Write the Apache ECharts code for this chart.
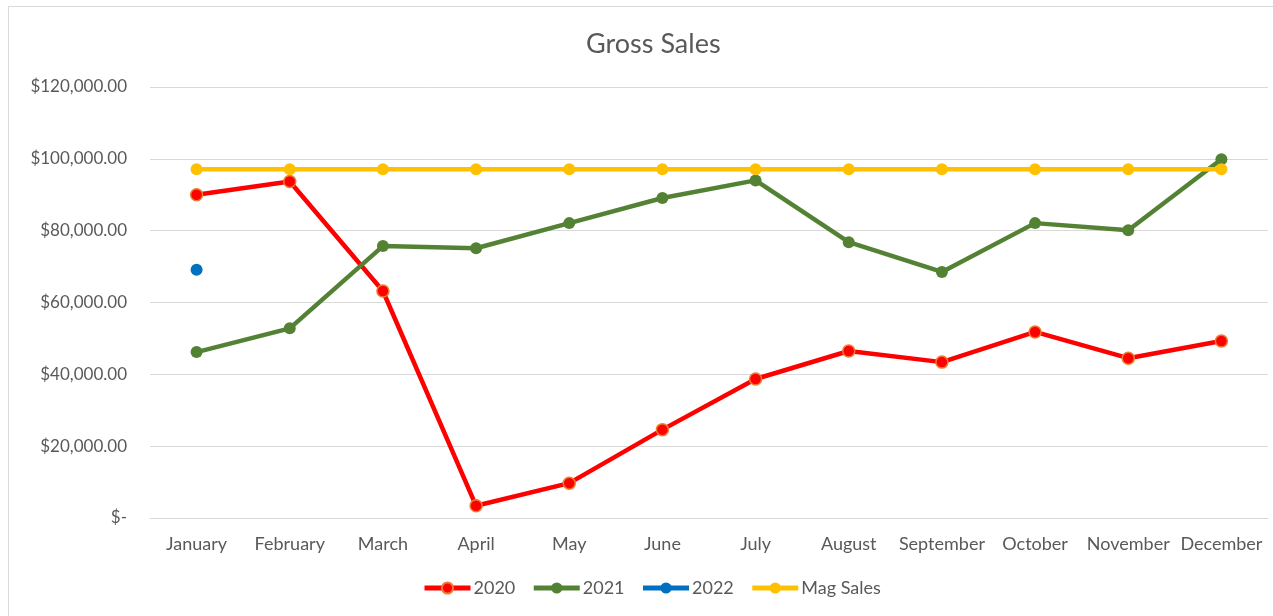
<!DOCTYPE html>
<html><head><meta charset="utf-8">
<script src="https://cdn.jsdelivr.net/npm/echarts@6/dist/echarts.min.js"></script>
<style>
html,body{margin:0;padding:0;background:#fff;}
#frame{position:absolute;left:8px;top:6px;width:1300px;height:700px;border:1px solid #d9d9d9;}
#chart{position:absolute;left:0;top:0;width:1273px;height:616px;}
</style></head>
<body>
<div id="frame"></div>
<div id="chart"></div>
<script>
const months = ['January','February','March','April','May','June','July','August','September','October','November','December'];
const sales2020 = [90000, 93700, 63200, 3400, 9700, 24600, 38700, 46500, 43400, 51800, 44500, 49300];
const sales2021 = [46200, 52800, 75700, 75100, 82100, 89100, 94000, 76800, 68500, 82100, 80100, 99900];
const sales2022 = [69100, null, null, null, null, null, null, null, null, null, null, null];
const magSales = [97100, 97100, 97100, 97100, 97100, 97100, 97100, 97100, 97100, 97100, 97100, 97100];
const yTicks = [0, 20000, 40000, 60000, 80000, 100000, 120000];

const font = 'Lato, "Liberation Sans", sans-serif';
const txt = '#595959';
function fmt(v){
  if (v === 0) return '$-';
  return '$' + v.toLocaleString('en-US',{minimumFractionDigits:2,maximumFractionDigits:2});
}
const chart = echarts.init(document.getElementById('chart'));
function line(name, data, color, border){
  return {
    name, type:'line', data, symbol:'circle', symbolSize:12,
    lineStyle:{color, width:4.5}, itemStyle:{color, borderColor:border||color, borderWidth:border?1.5:0},
    connectNulls:false, animation:false
  };
}
chart.setOption({
  animation:false,
  title:{text:'Gross Sales', left:581, top:26, textStyle:{fontFamily:font, fontSize:27, fontWeight:'normal', color:txt}},
  grid:{left:150, right:5, top:87, bottom:98},
  legend:{bottom:14, left:417, itemWidth:46, itemHeight:14, itemGap:16,
    lineStyle:{width:5},
    textStyle:{fontFamily:font, fontSize:18, color:txt, padding:[0,0,0,-2]},
    data:['2020','2021','2022','Mag Sales']},
  xAxis:{type:'category', data:months, boundaryGap:true,
    axisLine:{show:true, lineStyle:{color:'#d9d9d9', width:1}}, axisTick:{show:false},
    axisLabel:{fontFamily:font, fontSize:18, color:txt, margin:17, interval:0}},
  yAxis:{type:'value', min:yTicks[0], max:yTicks[yTicks.length-1], interval:20000,
    axisLine:{show:false}, axisTick:{show:false},
    splitLine:{lineStyle:{color:'#d9d9d9', width:1}},
    axisLabel:{fontFamily:font, fontSize:17, color:txt, margin:23, formatter:fmt}},
  series:[
    line('2020', sales2020, '#FF0000', '#ED7D31'),
    line('2021', sales2021, '#548235'),
    line('2022', sales2022, '#0070C0'),
    line('Mag Sales', magSales, '#FFC000')
  ]
});
</script>
</body></html>
